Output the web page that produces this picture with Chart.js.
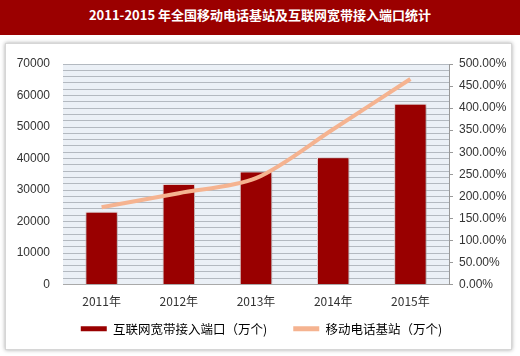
<!DOCTYPE html>
<html>
<head>
<meta charset="utf-8">
<script src="https://cdn.jsdelivr.net/npm/chart.js@4.4.0/dist/chart.umd.min.js"></script>
<style>
  html, body { margin: 0; padding: 0; background: #ffffff; }
  #wrap { position: relative; width: 520px; height: 356px; overflow: hidden; background: #fff; }
  #titlebar { position: absolute; left: 0; top: 0; width: 520px; height: 35px; background: #9b0000;
    color: #fff; font: bold 13px "Noto Sans CJK SC", "Liberation Sans", sans-serif; text-align: center; line-height: 29px; }
  #card { position: absolute; left: 5px; top: 43px; width: 505px; height: 305px; background: #fff;
    border: 1px solid #d6d6d6; box-shadow: 0 0 4px rgba(0,0,0,0.35); }
  #c { position: absolute; left: 0; top: 0; }
</style>
</head>
<body>
<div id="wrap">
  <div id="titlebar">2011-2015 年全国移动电话基站及互联网宽带接入端口统计</div>
  <div id="card"></div>
  <canvas id="c" width="520" height="356"></canvas>
</div>
<script>
const years = ['2011年', '2012年', '2013年', '2014年', '2015年'];
const ports = [23100, 31900, 35900, 40400, 57400];
const stations = [175, 207, 241, 352, 466];
const portLabel = '互联网宽带接入端口（万个)';
const stationLabel = '移动电话基站（万个)';

const plotBg = {
  id: 'plotBg',
  afterLayout(chart) {
    // let the category labels draw below the (shortened) x-axis box
    if (chart.scales.x) chart.scales.x._computeLabelArea = function () { return undefined; };
  },
  beforeDraw(chart) {
    const a = chart.chartArea, ctx = chart.ctx;
    ctx.save();
    ctx.fillStyle = '#ebf0f6';
    ctx.fillRect(a.left, a.top, a.right - a.left, a.bottom - a.top);
    ctx.restore();
  },
  beforeDatasetDraw(chart, args) {
    if (args.index === 1) {
      const ctx = chart.ctx;
      ctx.save();
      ctx.shadowColor = 'rgba(0,0,0,0.35)';
      ctx.shadowBlur = 4;
      ctx.shadowOffsetX = 1;
      ctx.shadowOffsetY = 1;
    }
  },
  afterDatasetDraw(chart, args) {
    if (args.index === 1) chart.ctx.restore();
  }
};

const FONT = '"Liberation Sans", "Noto Sans CJK SC", sans-serif';
const CJK = '"Noto Sans CJK SC", "Liberation Sans", sans-serif';

new Chart(document.getElementById('c'), {
  data: {
    labels: years,
    datasets: [
      {
        type: 'line', label: stationLabel, data: stations, yAxisID: 'y1',
        borderColor: '#f5b390', backgroundColor: '#f5b390', borderWidth: 4,
        pointRadius: 0, tension: 0.3, order: 0
      },
      {
        type: 'bar', label: portLabel, data: ports, yAxisID: 'y',
        backgroundColor: '#990000', borderColor: '#f3dede', borderWidth: 1,
        categoryPercentage: 1, barPercentage: 0.42, order: 1
      }
    ]
  },
  options: {
    responsive: false,
    animation: false,
    layout: { padding: { left: 8, right: 5, top: 64, bottom: 11 } },
    plugins: {
      legend: {
        position: 'bottom',
        labels: {
          boxWidth: 26, boxHeight: 5, padding: 26, color: '#333',
          font: { family: CJK, size: 12.5 },
          generateLabels(chart) {
            return [
              { text: portLabel, fillStyle: '#990000', strokeStyle: '#990000', lineWidth: 0, datasetIndex: 1 },
              { text: stationLabel, fillStyle: '#f5b390', strokeStyle: '#f5b390', lineWidth: 0, datasetIndex: 0 }
            ];
          }
        }
      },
      tooltip: { enabled: false }
    },
    scales: {
      x: {
        offset: true,
        afterFit(s) { s.height = 12; },
        grid: { display: false, drawTicks: false },
        border: { display: true, color: '#a9a9a9' },
        ticks: { color: '#333', font: { family: CJK, size: 12 }, padding: 10 }
      },
      y: {
        position: 'left', min: 0, max: 70000,
        afterFit(s) { s.width = 55; },
        grid: { color: '#b3b9c0', lineWidth: 1, drawTicks: false },
        border: { display: false },
        ticks: {
          stepSize: 2000, autoSkip: false, padding: 13, color: '#333',
          font: { family: FONT, size: 12 },
          callback: v => (v % 10000 === 0 ? String(v) : '')
        }
      },
      y1: {
        position: 'right', min: 0, max: 500,
        afterFit(s) { s.width = 66; },
        grid: { drawOnChartArea: false, color: '#999', tickLength: 4 },
        border: { display: true, color: '#999' },
        ticks: {
          stepSize: 50, autoSkip: false, padding: 6, color: '#333',
          font: { family: FONT, size: 12 },
          callback: v => v.toFixed(2) + '%'
        }
      }
    }
  },
  plugins: [plotBg]
});
</script>
</body>
</html>
